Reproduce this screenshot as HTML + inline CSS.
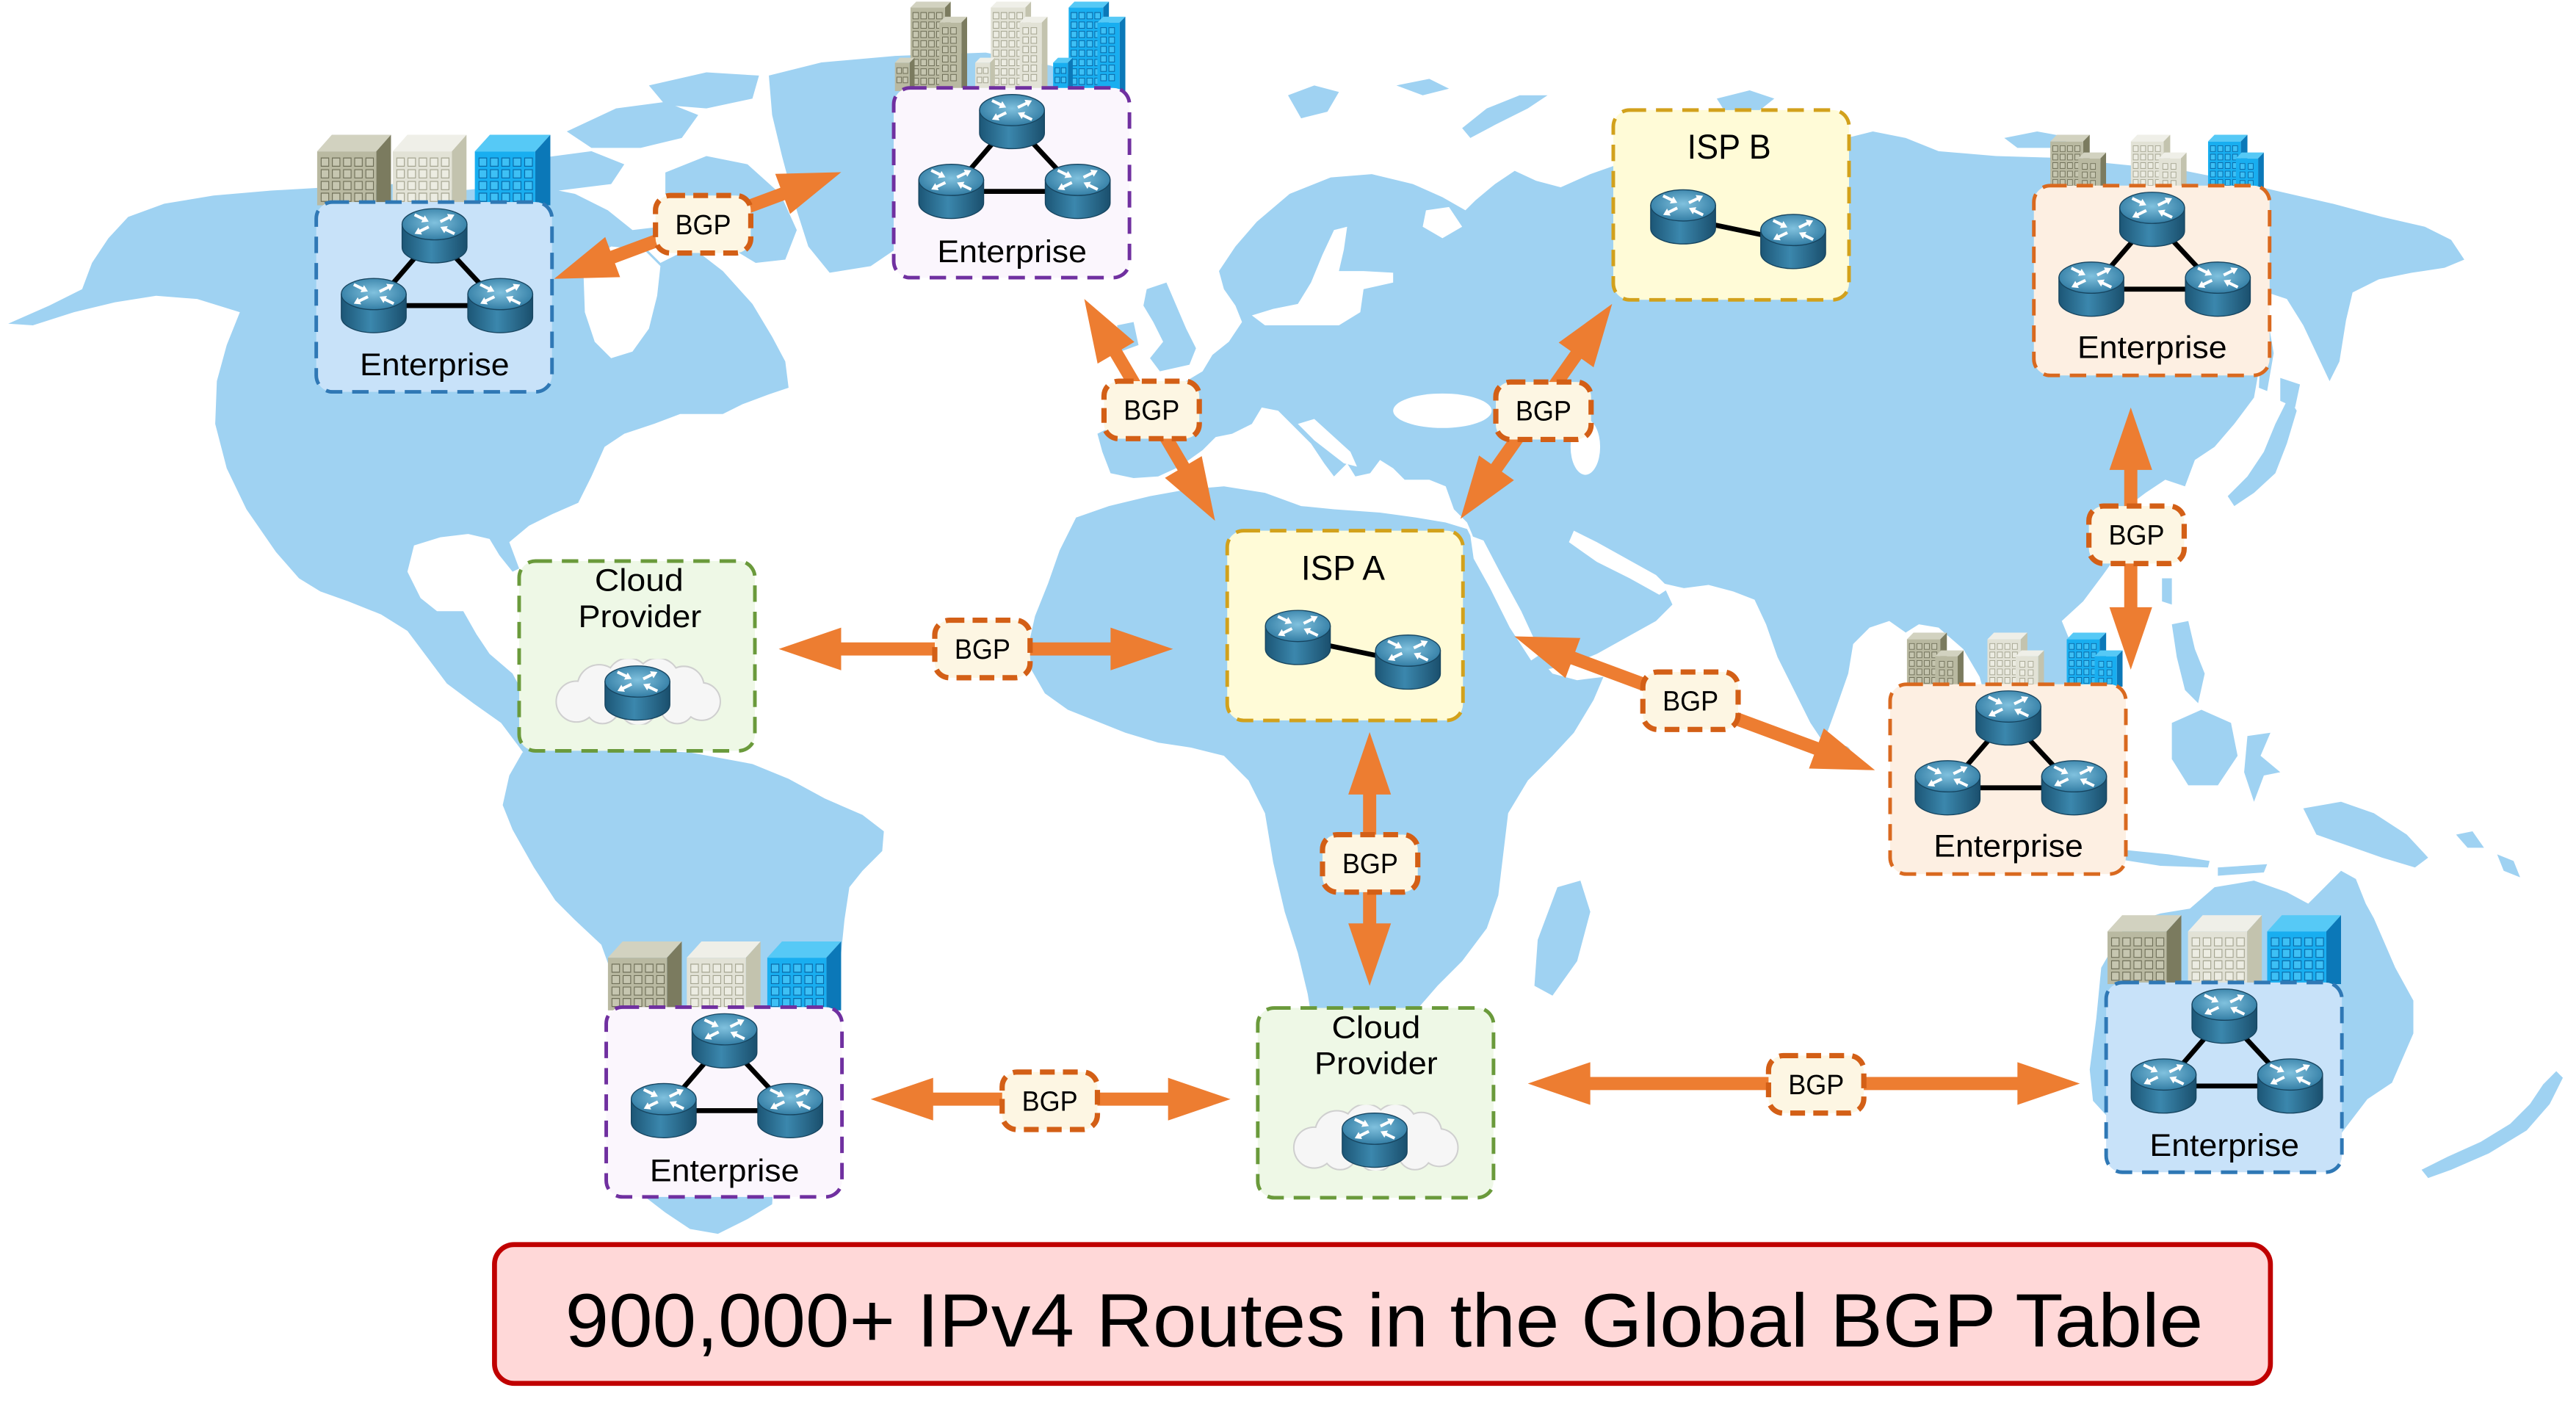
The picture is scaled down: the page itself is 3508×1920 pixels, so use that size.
<!DOCTYPE html>
<html>
<head>
<meta charset="utf-8">
<style>
html,body{margin:0;padding:0;background:#fff;}
body{width:3508px;height:1920px;overflow:hidden;}
svg{display:block;}
text{font-family:"Liberation Sans",Arial,sans-serif;fill:#000;}
.ol{--f:#b9b9a1;--s:#7b7b5f;--t:#d2d2c0;--wf:#c6c6b0;--ws:#6f6f58;}
.be{--f:#e2e2d6;--s:#c3c3ae;--t:#efefe8;--wf:#ececE2;--ws:#a4a490;}
.bl{--f:#18aef0;--s:#0b78b8;--t:#56c9f6;--wf:#3dc0f5;--ws:#0a68a6;}
</style>
</head>
<body>
<svg width="3508" height="1920" viewBox="0 0 1568 858.2" xmlns="http://www.w3.org/2000/svg">
<defs>
  <linearGradient id="gBody" x1="0" y1="0" x2="1" y2="0">
    <stop offset="0" stop-color="#1c5676"/>
    <stop offset="0.45" stop-color="#3b87ad"/>
    <stop offset="1" stop-color="#1a4f6d"/>
  </linearGradient>
  <radialGradient id="gTop" cx="0.5" cy="0.45" r="0.6">
    <stop offset="0" stop-color="#80c1de"/>
    <stop offset="1" stop-color="#2d78a0"/>
  </radialGradient>

  <symbol id="rt" viewBox="0 0 40 34" preserveAspectRatio="none">
    <path d="M0.5,10 V24 A19.5,9.5 0 0 0 39.5,24 V10 Z" fill="url(#gBody)" stroke="#174560" stroke-width="0.6"/>
    <ellipse cx="20" cy="10" rx="19.5" ry="9.5" fill="url(#gTop)" stroke="#174560" stroke-width="0.6"/>
    <g stroke="#fff" stroke-width="1.8" fill="none">
      <line x1="8" y1="4.2" x2="13.5" y2="6.9"/>
      <line x1="23.5" y1="8.4" x2="28.8" y2="5.8"/>
      <line x1="16.5" y1="11.6" x2="11.2" y2="14.2"/>
      <line x1="32" y1="15.8" x2="26.7" y2="13.2"/>
    </g>
    <g fill="#fff">
      <polygon points="16.5,8.4 12.03,8.87 14.15,4.57"/>
      <polygon points="32,4.2 29.65,8.03 27.53,3.73"/>
      <polygon points="8,15.8 10.35,11.97 12.47,16.27"/>
      <polygon points="23.5,11.6 27.97,11.13 25.85,15.43"/>
    </g>
  </symbol>

  <symbol id="cl" viewBox="0 0 104 40" preserveAspectRatio="none">
    <g fill="none" stroke="#cfcfcf" stroke-width="1.8">
      <circle cx="14" cy="26" r="12"/><circle cx="28" cy="17" r="13"/><circle cx="46" cy="13" r="13"/>
      <circle cx="64" cy="13" r="13"/><circle cx="80" cy="17" r="12"/><circle cx="91" cy="26" r="11"/>
      <circle cx="76" cy="29" r="10"/><circle cx="52" cy="29" r="11"/><circle cx="30" cy="29" r="10"/>
    </g>
    <g fill="#f6f6f6">
      <circle cx="14" cy="26" r="12"/><circle cx="28" cy="17" r="13"/><circle cx="46" cy="13" r="13"/>
      <circle cx="64" cy="13" r="13"/><circle cx="80" cy="17" r="12"/><circle cx="91" cy="26" r="11"/>
      <circle cx="76" cy="29" r="10"/><circle cx="52" cy="29" r="11"/><circle cx="30" cy="29" r="10"/>
    </g>
  </symbol>

  <symbol id="bA" viewBox="0 0 45 41" preserveAspectRatio="none">
    <polygon points="0,9.7 9,0 45,0 36,9.7" style="fill:var(--t)"/>
    <polygon points="36,9.7 45,0 45,41 36,41" style="fill:var(--s)"/>
    <rect x="0" y="9.7" width="36" height="31.3" style="fill:var(--f)"/>
    <path style="fill:var(--wf);stroke:var(--ws);stroke-width:0.5" d="M2.5,13.5h4.6v4.8h-4.6z M9.3,13.5h4.6v4.8h-4.6z M16.1,13.5h4.6v4.8h-4.6z M22.9,13.5h4.6v4.8h-4.6z M29.7,13.5h4.6v4.8h-4.6z
    M2.5,20.3h4.6v4.8h-4.6z M9.3,20.3h4.6v4.8h-4.6z M16.1,20.3h4.6v4.8h-4.6z M22.9,20.3h4.6v4.8h-4.6z M29.7,20.3h4.6v4.8h-4.6z
    M2.5,27.1h4.6v4.8h-4.6z M9.3,27.1h4.6v4.8h-4.6z M16.1,27.1h4.6v4.8h-4.6z M22.9,27.1h4.6v4.8h-4.6z M29.7,27.1h4.6v4.8h-4.6z
    M2.5,33.9h4.6v4.8h-4.6z M9.3,33.9h4.6v4.8h-4.6z M16.1,33.9h4.6v4.8h-4.6z M22.9,33.9h4.6v4.8h-4.6z M29.7,33.9h4.6v4.8h-4.6z"/>
  </symbol>

  <symbol id="bB" viewBox="0 0 44 54" preserveAspectRatio="none">
    <polygon points="9.5,4 13,0.5 34,0.5 30.5,4" style="fill:var(--t)"/>
    <polygon points="30.5,4 34,0.5 34,54 30.5,54" style="fill:var(--s)"/>
    <rect x="9.5" y="4" width="21" height="50" style="fill:var(--f)"/>
    <path style="fill:var(--wf);stroke:var(--ws);stroke-width:0.45" d="M11,7h3.4v3.8h-3.4z M15.8,7h3.4v3.8h-3.4z M20.6,7h3.4v3.8h-3.4z M25.4,7h3.4v3.8h-3.4z
    M11,12.6h3.4v3.8h-3.4z M15.8,12.6h3.4v3.8h-3.4z M20.6,12.6h3.4v3.8h-3.4z M25.4,12.6h3.4v3.8h-3.4z
    M11,18.2h3.4v3.8h-3.4z M15.8,18.2h3.4v3.8h-3.4z M20.6,18.2h3.4v3.8h-3.4z M25.4,18.2h3.4v3.8h-3.4z
    M11,23.8h3.4v3.8h-3.4z M15.8,23.8h3.4v3.8h-3.4z M20.6,23.8h3.4v3.8h-3.4z M25.4,23.8h3.4v3.8h-3.4z
    M11,29.4h3.4v3.8h-3.4z M15.8,29.4h3.4v3.8h-3.4z M20.6,29.4h3.4v3.8h-3.4z M25.4,29.4h3.4v3.8h-3.4z
    M11,35h3.4v3.8h-3.4z M15.8,35h3.4v3.8h-3.4z M20.6,35h3.4v3.8h-3.4z M25.4,35h3.4v3.8h-3.4z
    M11,40.6h3.4v3.8h-3.4z M15.8,40.6h3.4v3.8h-3.4z M20.6,40.6h3.4v3.8h-3.4z M25.4,40.6h3.4v3.8h-3.4z
    M11,46.2h3.4v3.8h-3.4z M15.8,46.2h3.4v3.8h-3.4z M20.6,46.2h3.4v3.8h-3.4z M25.4,46.2h3.4v3.8h-3.4z"/>
    <polygon points="27,13 30.5,9.5 44,9.5 40.5,13" style="fill:var(--t)"/>
    <polygon points="40.5,13 44,9.5 44,54 40.5,54" style="fill:var(--s)"/>
    <rect x="27" y="13" width="13.5" height="41" style="fill:var(--f)"/>
    <path style="fill:var(--wf);stroke:var(--ws);stroke-width:0.45" d="M29,16h3.4v3.8h-3.4z M34,16h3.4v3.8h-3.4z M29,21.6h3.4v3.8h-3.4z M34,21.6h3.4v3.8h-3.4z M29,27.2h3.4v3.8h-3.4z M34,27.2h3.4v3.8h-3.4z M29,32.8h3.4v3.8h-3.4z M34,32.8h3.4v3.8h-3.4z M29,38.4h3.4v3.8h-3.4z M34,38.4h3.4v3.8h-3.4z M29,44h3.4v3.8h-3.4z M34,44h3.4v3.8h-3.4z"/>
    <polygon points="0,37 3,34 12,34 9,37" style="fill:var(--t)"/>
    <polygon points="9,37 12,34 12,54 9,54" style="fill:var(--s)"/>
    <rect x="0" y="37" width="9" height="17" style="fill:var(--f)"/>
    <path style="fill:var(--wf);stroke:var(--ws);stroke-width:0.45" d="M1.2,40h2.8v3.4h-2.8z M5,40h2.8v3.4h-2.8z M1.2,45.6h2.8v3.4h-2.8z M5,45.6h2.8v3.4h-2.8z"/>
  </symbol>

  <symbol id="bS" viewBox="0 0 34 32" preserveAspectRatio="none">
    <polygon points="0,4 4,0 24,0 20,4" style="fill:var(--t)"/>
    <polygon points="20,4 24,0 24,32 20,32" style="fill:var(--s)"/>
    <rect x="0" y="4" width="20" height="28" style="fill:var(--f)"/>
    <path style="fill:var(--wf);stroke:var(--ws);stroke-width:0.4" d="M1.5,6.5h3v3.4h-3z M6,6.5h3v3.4h-3z M10.5,6.5h3v3.4h-3z M15,6.5h3v3.4h-3z
    M1.5,11.5h3v3.4h-3z M6,11.5h3v3.4h-3z M10.5,11.5h3v3.4h-3z M15,11.5h3v3.4h-3z
    M1.5,16.5h3v3.4h-3z M6,16.5h3v3.4h-3z M10.5,16.5h3v3.4h-3z M15,16.5h3v3.4h-3z
    M1.5,21.5h3v3.4h-3z M6,21.5h3v3.4h-3z M10.5,21.5h3v3.4h-3z M15,21.5h3v3.4h-3z
    M1.5,26.5h3v3.4h-3z M6,26.5h3v3.4h-3z M10.5,26.5h3v3.4h-3z M15,26.5h3v3.4h-3z"/>
    <polygon points="17,14 20.5,10.5 34,10.5 30.5,14" style="fill:var(--t)"/>
    <polygon points="30.5,14 34,10.5 34,32 30.5,32" style="fill:var(--s)"/>
    <rect x="17" y="14" width="13.5" height="18" style="fill:var(--f)"/>
    <path style="fill:var(--wf);stroke:var(--ws);stroke-width:0.4" d="M19.5,17h3v3.4h-3z M24.5,17h3v3.4h-3z M19.5,22h3v3.4h-3z M24.5,22h3v3.4h-3z M19.5,27h3v3.4h-3z M24.5,27h3v3.4h-3z"/>
  </symbol>
</defs>

<!-- ================= WORLD MAP ================= -->
<g fill="#9fd2f2">
  <!-- North America -->
  <path d="M5,197 L30,186 L50,176 L56,160 L66,145 L78,132 L100,124 L130,119 L165,116 L200,114 L240,112 L280,116 L320,112 L350,118 L370,128 L385,140 L402,138 L418,148 L440,165 L458,185 L470,205 L478,220 L480,236 L468,240 L452,246 L440,252 L414,252 L398,258 L380,264 L368,272 L360,290 L352,306 L336,313 L322,320 L310,330 L316,346 L312,348 L304,338 L298,328 L285,325 L268,327 L252,332 L248,348 L256,364 L266,372 L282,372 L290,386 L298,398 L312,410 L320,425 L330,445 L340,460 L320,460 L305,440 L288,428 L272,416 L260,400 L248,384 L232,374 L212,366 L195,360 L182,352 L168,336 L150,310 L138,285 L131,258 L132,232 L138,210 L146,190 L120,182 L95,180 L70,184 L45,190 L20,198 Z"/>
  <!-- Arctic archipelago -->
  <path d="M300,108 L330,96 L360,92 L380,100 L372,112 L340,116 L310,118 Z"/>
  <path d="M345,80 L375,66 L405,62 L425,70 L415,84 L390,90 L360,90 Z"/>
  <path d="M395,52 L430,44 L462,46 L458,60 L430,66 L405,64 Z"/>
  <path d="M405,105 L430,95 L455,100 L475,118 L485,140 L478,158 L460,160 L440,148 L420,132 L405,118 Z"/>
  <!-- Greenland -->
  <path d="M468,46 L500,38 L545,34 L600,32 L640,40 L660,50 L640,70 L610,95 L580,120 L555,145 L530,162 L505,166 L492,150 L484,125 L476,95 L470,70 Z"/>
  <!-- South America -->
  <path d="M318,458 L345,455 L380,456 L420,458 L458,465 L480,474 L502,486 L525,496 L538,506 L537,518 L525,530 L517,540 L514,560 L512,580 L505,610 L495,640 L482,670 L472,700 L470,733 L455,742 L437,751 L420,748 L405,738 L392,728 L388,700 L385,665 L380,630 L375,600 L366,575 L350,560 L338,548 L325,528 L312,505 L306,490 L310,472 Z"/>
  <!-- Eurasia -->
  <path d="M690,291 L676,288 L671,275 L668,264 L680,258 L700,258 L712,252 L722,245 L714,240 L722,232 L732,226 L738,216 L748,208 L756,196 L752,186 L745,176 L742,165 L752,150 L765,135 L785,118 L810,108 L835,106 L860,112 L878,120 L892,128 L898,122 L910,112 L922,104 L935,110 L950,114 L968,106 L985,100 L1040,82 L1080,80 L1120,85 L1140,80 L1160,84 L1180,92 L1215,95 L1250,96 L1290,100 L1330,104 L1360,110 L1385,116 L1420,124 L1450,132 L1476,138 L1492,146 L1500,158 L1488,163 L1468,166 L1448,170 L1432,178 L1428,195 L1424,220 L1418,232 L1410,215 L1402,198 L1392,182 L1380,178 L1370,190 L1368,210 L1375,225 L1372,242 L1360,258 L1348,272 L1336,280 L1330,296 L1318,292 L1306,300 L1298,306 L1296,320 L1290,336 L1280,350 L1268,366 L1255,378 L1262,395 L1262,410 L1250,425 L1238,420 L1232,432 L1225,445 L1222,460 L1212,452 L1210,430 L1205,412 L1195,395 L1180,382 L1168,380 L1160,385 L1150,378 L1138,382 L1128,392 L1125,410 L1118,430 L1110,452 L1102,440 L1092,420 L1082,400 L1075,380 L1068,365 L1055,360 L1040,356 L1025,358 L1012,355 L1018,368 L1008,378 L990,388 L972,398 L955,405 L938,408 L928,395 L918,378 L910,360 L902,342 L896,325 L893,318 L885,310 L880,296 L870,292 L855,292 L848,285 L840,280 L834,288 L825,290 L820,282 L812,290 L806,282 L798,270 L788,260 L778,250 L768,248 L762,258 L750,264 L740,266 L732,274 L718,284 L705,290 Z"/>
  <!-- Africa -->
  <path d="M655,315 L675,308 L700,302 L722,298 L745,296 L770,300 L792,308 L812,310 L840,312 L862,315 L880,318 L893,322 L900,336 L910,355 L920,375 L932,395 L945,410 L960,414 L976,412 L970,426 L958,446 L945,460 L930,475 L918,495 L915,520 L912,545 L905,565 L890,585 L875,600 L862,615 L855,640 L840,655 L820,660 L808,650 L800,630 L796,605 L790,580 L782,555 L775,525 L770,495 L760,475 L745,460 L725,455 L705,452 L685,446 L665,438 L650,432 L636,422 L628,408 L626,393 L630,375 L638,355 L645,335 Z"/>
  <!-- Madagascar -->
  <path d="M948,540 L962,536 L968,555 L960,585 L945,606 L934,600 L936,572 Z"/>
  <!-- UK / Ireland -->
  <path d="M698,176 L710,172 L716,186 L722,200 L728,212 L724,222 L706,226 L700,218 L708,208 L702,196 L696,186 Z"/>
  <path d="M680,198 L690,196 L693,210 L682,214 Z"/>
  <!-- Arctic islands of Eurasia -->
  <path d="M784,58 L800,52 L815,56 L808,68 L792,72 Z"/>
  <path d="M890,78 L905,66 L925,58 L942,58 L930,66 L910,76 L895,84 Z"/>
  <path d="M850,52 L870,48 L882,54 L866,58 Z"/>
  <path d="M1045,60 L1065,55 L1080,60 L1070,68 L1050,68 Z"/>
  <path d="M1220,84 L1240,80 L1262,84 L1250,90 L1228,90 Z"/>
  <!-- Japan / Sakhalin -->
  <path d="M1393,242 L1398,250 L1392,270 L1385,288 L1372,300 L1360,308 L1356,302 L1368,290 L1378,275 L1385,258 Z"/>
  <path d="M1388,230 L1400,234 L1397,248 L1388,244 Z"/>
  <path d="M1374,192 L1380,192 L1384,215 L1380,238 L1375,236 L1376,212 Z"/>
  <!-- Taiwan, Philippines, Sri Lanka -->
  <path d="M1316,352 L1322,352 L1322,368 L1316,366 Z"/>
  <path d="M1322,380 L1332,378 L1336,395 L1342,410 L1338,428 L1330,420 L1325,400 Z"/>
  <ellipse cx="1123" cy="460" rx="4" ry="6"/>
  <!-- Indonesia -->
  <path d="M1215,460 L1235,470 L1260,495 L1280,515 L1275,520 L1250,505 L1225,485 L1210,468 Z"/>
  <path d="M1290,517 L1320,520 L1345,524 L1344,528 L1315,527 L1290,523 Z"/>
  <path d="M1322,440 L1340,432 L1358,440 L1362,460 L1350,478 L1332,478 L1322,462 Z"/>
  <path d="M1368,448 L1382,446 L1376,460 L1388,470 L1378,472 L1372,488 L1366,470 Z"/>
  <path d="M1402,492 L1425,488 L1445,495 L1465,508 L1478,522 L1470,528 L1450,522 L1430,515 L1410,508 Z"/>
  <path d="M1350,528 L1380,526 L1378,531 L1350,533 Z"/>
  <path d="M1495,508 L1505,506 L1512,516 L1502,516 Z"/>
  <path d="M1520,520 L1530,524 L1534,534 L1524,530 Z"/>
  <!-- Australia -->
  <path d="M1272,651 L1276,620 L1279,589 L1294,563 L1315,556 L1333,553 L1348,540 L1372,536 L1392,543 L1405,550 L1415,540 L1425,530 L1434,535 L1440,550 L1445,559 L1458,589 L1469,609 L1469,629 L1456,659 L1441,669 L1425,690 L1405,705 L1385,703 L1365,695 L1340,688 L1310,688 L1285,682 L1274,670 Z"/>
  <!-- New Zealand -->
  <path d="M1474,712 L1490,704 L1510,695 L1528,684 L1540,672 L1548,660 L1556,652 L1560,656 L1552,672 L1538,688 L1515,702 L1492,712 L1478,717 Z"/>
</g>
<!-- inland waters -->
<g fill="#ffffff">
  <path d="M355,162 L372,150 L392,152 L402,162 L400,180 L395,200 L385,214 L372,218 L362,208 L356,190 Z"/>
  <path d="M392,150 L420,140 L430,146 L402,160 Z"/>
  <path d="M762,192 L775,188 L790,185 L798,172 L805,155 L812,140 L820,138 L818,152 L815,165 L830,165 L848,166 L848,172 L830,176 L828,190 L815,198 L790,198 L770,198 Z"/>
  <path d="M868,128 L882,126 L890,138 L878,145 L866,138 Z"/>
  <ellipse cx="878" cy="250" rx="30" ry="10.5"/>
  <ellipse cx="965" cy="272" rx="9" ry="17"/>
  <path d="M958,323 L972,330 L990,340 L1008,350 L1016,358 L1010,362 L992,352 L972,342 L955,330 Z"/>
  <path d="M895,326 L903,329 L914,350 L926,372 L938,398 L932,402 L919,382 L907,358 L897,340 Z"/>
  <path d="M790,258 L800,255 L822,275 L826,284 L818,282 L800,268 Z"/>
</g>

<!-- ================= ARROWS ================= -->
<g fill="#ed7d31">
  <path transform="translate(337.3,169.7) rotate(-20.38)" d="M0,0 L38,-13 L38,-4 L148.4,-4 L148.4,-13 L186.4,0 L148.4,13 L148.4,4 L38,4 L38,13 Z"/>
  <path transform="translate(660,182) rotate(59.47)" d="M0,0 L38,-13 L38,-4 L118.7,-4 L118.7,-13 L156.7,0 L118.7,13 L118.7,4 L38,4 L38,13 Z"/>
  <path transform="translate(889,315.8) rotate(-54.8)" d="M0,0 L38,-13 L38,-4 L122.1,-4 L122.1,-13 L160.1,0 L122.1,13 L122.1,4 L38,4 L38,13 Z"/>
  <path transform="translate(474,395)" d="M0,0 L38,-13 L38,-4 L202,-4 L202,-13 L240,0 L202,13 L202,4 L38,4 L38,13 Z"/>
  <path transform="translate(921.8,387.3) rotate(20.37)" d="M0,0 L38,-13 L38,-4 L196.1,-4 L196.1,-13 L234.1,0 L196.1,13 L196.1,4 L38,4 L38,13 Z"/>
  <path transform="translate(1297,248) rotate(90)" d="M0,0 L38,-13 L38,-4 L121.6,-4 L121.6,-13 L159.6,0 L121.6,13 L121.6,4 L38,4 L38,13 Z"/>
  <path transform="translate(833.7,445.6) rotate(90)" d="M0,0 L38,-13 L38,-4 L116.4,-4 L116.4,-13 L154.4,0 L116.4,13 L116.4,4 L38,4 L38,13 Z"/>
  <path transform="translate(530,669)" d="M0,0 L38,-13 L38,-4 L181,-4 L181,-13 L219,0 L181,13 L181,4 L38,4 L38,13 Z"/>
  <path transform="translate(930,659.5)" d="M0,0 L38,-13 L38,-4 L298,-4 L298,-13 L336,0 L298,13 L298,4 L38,4 L38,13 Z"/>
</g>

<!-- ================= BUILDINGS ================= -->
<!-- E1 -->
<use href="#bA" class="ol" x="193" y="82" width="45" height="43"/>
<use href="#bA" class="be" x="239" y="82" width="45" height="43"/>
<use href="#bA" class="bl" x="289" y="82" width="46" height="43"/>
<!-- E2 -->
<use href="#bB" class="ol" x="544.7" y="0.5" width="44" height="55"/>
<use href="#bB" class="be" x="593.6" y="0.5" width="44" height="55"/>
<use href="#bB" class="bl" x="641" y="0.5" width="44" height="55"/>
<!-- E3 -->
<use href="#bS" class="ol" x="1248" y="82" width="34" height="33"/>
<use href="#bS" class="be" x="1297" y="82" width="34" height="33"/>
<use href="#bS" class="bl" x="1344" y="82" width="34" height="33"/>
<!-- E4 -->
<use href="#bS" class="ol" x="1160.7" y="385" width="34.5" height="33"/>
<use href="#bS" class="be" x="1209.7" y="385" width="34.5" height="33"/>
<use href="#bS" class="bl" x="1258" y="385" width="34" height="33"/>
<!-- E5 -->
<use href="#bA" class="ol" x="370" y="573" width="45" height="42"/>
<use href="#bA" class="be" x="418" y="573" width="45" height="42"/>
<use href="#bA" class="bl" x="467" y="573" width="45" height="42"/>
<!-- E6 -->
<use href="#bA" class="ol" x="1282.8" y="557" width="45" height="42"/>
<use href="#bA" class="be" x="1331.8" y="557" width="45" height="42"/>
<use href="#bA" class="bl" x="1380" y="557" width="45" height="42"/>

<!-- ================= BOXES ================= -->
<g stroke-width="2.2" stroke-dasharray="10 6">
  <rect x="192.5" y="123" width="143.5" height="115.5" rx="10" fill="#c8e2f9" stroke="#2f78b5"/>
  <rect x="1282" y="598" width="143.5" height="115.5" rx="10" fill="#c8e2f9" stroke="#2f78b5"/>
  <rect x="544" y="53.5" width="143.5" height="115.5" rx="10" fill="#fbf6fd" stroke="#7030a0"/>
  <rect x="369" y="613" width="143.5" height="115.5" rx="10" fill="#fbf6fd" stroke="#7030a0"/>
  <rect x="1238" y="113" width="143.5" height="115.5" rx="10" fill="#fdefe2" stroke="#d9691f"/>
  <rect x="1150.5" y="416.5" width="143.5" height="115.5" rx="10" fill="#fdefe2" stroke="#d9691f"/>
  <rect x="982" y="67" width="143.5" height="115.5" rx="10" fill="#fffbd7" stroke="#d2a11c"/>
  <rect x="747" y="323" width="143.5" height="115.5" rx="10" fill="#fffbd7" stroke="#d2a11c"/>
  <rect x="316" y="341.5" width="143.5" height="115.5" rx="10" fill="#eef8e6" stroke="#6a9a3b"/>
  <rect x="765.6" y="613.5" width="143.5" height="115.5" rx="10" fill="#eef8e6" stroke="#6a9a3b"/>
</g>

<!-- connection lines inside boxes -->
<g stroke="#000" stroke-width="3" fill="none">
  <path d="M264.5,143 L227.5,186 L304.5,186 Z"/>
  <path d="M616,73.5 L579,116.5 L656,116.5 Z"/>
  <path d="M1310,133 L1273,176 L1350,176 Z"/>
  <path d="M1222.5,436.5 L1185.5,479.5 L1262.5,479.5 Z"/>
  <path d="M441,633 L404,676 L481,676 Z"/>
  <path d="M1354,618 L1317,661 L1394,661 Z"/>
  <line x1="790" y1="389" x2="857" y2="403"/>
  <line x1="1025" y1="133" x2="1092" y2="147"/>
</g>

<!-- clouds -->
<use href="#cl" x="337" y="401" width="103" height="40"/>
<use href="#cl" x="786" y="672.5" width="103" height="40"/>

<!-- routers -->
<g>
  <use href="#rt" x="244.25" y="126.5" width="40.5" height="34"/>
  <use href="#rt" x="207.25" y="169" width="40.5" height="34"/>
  <use href="#rt" x="284.25" y="169" width="40.5" height="34"/>

  <use href="#rt" x="595.75" y="57" width="40.5" height="34"/>
  <use href="#rt" x="558.75" y="99.5" width="40.5" height="34"/>
  <use href="#rt" x="635.75" y="99.5" width="40.5" height="34"/>

  <use href="#rt" x="1289.75" y="116.5" width="40.5" height="34"/>
  <use href="#rt" x="1252.75" y="159" width="40.5" height="34"/>
  <use href="#rt" x="1329.75" y="159" width="40.5" height="34"/>

  <use href="#rt" x="1202.25" y="420" width="40.5" height="34"/>
  <use href="#rt" x="1165.25" y="462.5" width="40.5" height="34"/>
  <use href="#rt" x="1242.25" y="462.5" width="40.5" height="34"/>

  <use href="#rt" x="420.75" y="616.5" width="40.5" height="34"/>
  <use href="#rt" x="383.75" y="659" width="40.5" height="34"/>
  <use href="#rt" x="460.75" y="659" width="40.5" height="34"/>

  <use href="#rt" x="1333.75" y="601.5" width="40.5" height="34"/>
  <use href="#rt" x="1296.75" y="644" width="40.5" height="34"/>
  <use href="#rt" x="1373.75" y="644" width="40.5" height="34"/>

  <use href="#rt" x="769.75" y="371" width="40.5" height="34"/>
  <use href="#rt" x="836.75" y="386" width="40.5" height="34"/>

  <use href="#rt" x="1004.25" y="115" width="40.5" height="34"/>
  <use href="#rt" x="1071.25" y="130" width="40.5" height="34"/>

  <use href="#rt" x="367.75" y="404.8" width="40.5" height="34"/>
  <use href="#rt" x="816.5" y="677" width="40.5" height="34"/>
</g>

<!-- box labels -->
<g font-size="19" text-anchor="middle">
  <text x="264.5" y="228.5" textLength="91" lengthAdjust="spacingAndGlyphs">Enterprise</text>
  <text x="616" y="159.5" textLength="91" lengthAdjust="spacingAndGlyphs">Enterprise</text>
  <text x="1310" y="218" textLength="91" lengthAdjust="spacingAndGlyphs">Enterprise</text>
  <text x="1222.5" y="521.5" textLength="91" lengthAdjust="spacingAndGlyphs">Enterprise</text>
  <text x="441" y="719" textLength="91" lengthAdjust="spacingAndGlyphs">Enterprise</text>
  <text x="1354" y="703.5" textLength="91" lengthAdjust="spacingAndGlyphs">Enterprise</text>
  <text x="389" y="359.7" textLength="54" lengthAdjust="spacingAndGlyphs">Cloud</text>
  <text x="389.5" y="381.8" textLength="75" lengthAdjust="spacingAndGlyphs">Provider</text>
  <text x="837.6" y="631.8" textLength="54" lengthAdjust="spacingAndGlyphs">Cloud</text>
  <text x="837.6" y="653.8" textLength="75" lengthAdjust="spacingAndGlyphs">Provider</text>
</g>
<g font-size="21" text-anchor="middle">
  <text x="817.5" y="353" textLength="51" lengthAdjust="spacingAndGlyphs">ISP A</text>
  <text x="1052.5" y="96.5" textLength="51" lengthAdjust="spacingAndGlyphs">ISP B</text>
</g>

<!-- ================= BGP LABELS ================= -->
<g fill="#fdf6e3" stroke="#d35f16" stroke-width="3.2" stroke-dasharray="9 5">
  <rect x="399" y="119" width="58" height="35" rx="9"/>
  <rect x="672" y="232" width="58" height="35" rx="9"/>
  <rect x="910.5" y="232.5" width="58" height="35" rx="9"/>
  <rect x="569" y="377.5" width="58" height="35" rx="9"/>
  <rect x="1000" y="409" width="58" height="35" rx="9"/>
  <rect x="1271.5" y="308" width="58" height="35" rx="9"/>
  <rect x="805" y="508" width="58" height="35" rx="9"/>
  <rect x="610" y="652.5" width="58" height="35" rx="9"/>
  <rect x="1076.5" y="642.5" width="58" height="35" rx="9"/>
</g>
<g font-size="17" text-anchor="middle">
  <text x="428" y="142.5" textLength="34" lengthAdjust="spacingAndGlyphs">BGP</text>
  <text x="701" y="255.5" textLength="34" lengthAdjust="spacingAndGlyphs">BGP</text>
  <text x="939.5" y="256" textLength="34" lengthAdjust="spacingAndGlyphs">BGP</text>
  <text x="598" y="401" textLength="34" lengthAdjust="spacingAndGlyphs">BGP</text>
  <text x="1029" y="432.5" textLength="34" lengthAdjust="spacingAndGlyphs">BGP</text>
  <text x="1300.5" y="331.5" textLength="34" lengthAdjust="spacingAndGlyphs">BGP</text>
  <text x="834" y="531.5" textLength="34" lengthAdjust="spacingAndGlyphs">BGP</text>
  <text x="639" y="676" textLength="34" lengthAdjust="spacingAndGlyphs">BGP</text>
  <text x="1105.5" y="666" textLength="34" lengthAdjust="spacingAndGlyphs">BGP</text>
</g>

<!-- ================= BANNER ================= -->
<rect x="301" y="757.5" width="1081" height="84.5" rx="12" fill="#ffd8d8" stroke="#c00000" stroke-width="3"/>
<text x="842.5" y="819.5" font-size="46" text-anchor="middle" textLength="997" lengthAdjust="spacingAndGlyphs">900,000+ IPv4 Routes in the Global BGP Table</text>
</svg>
</body>
</html>
